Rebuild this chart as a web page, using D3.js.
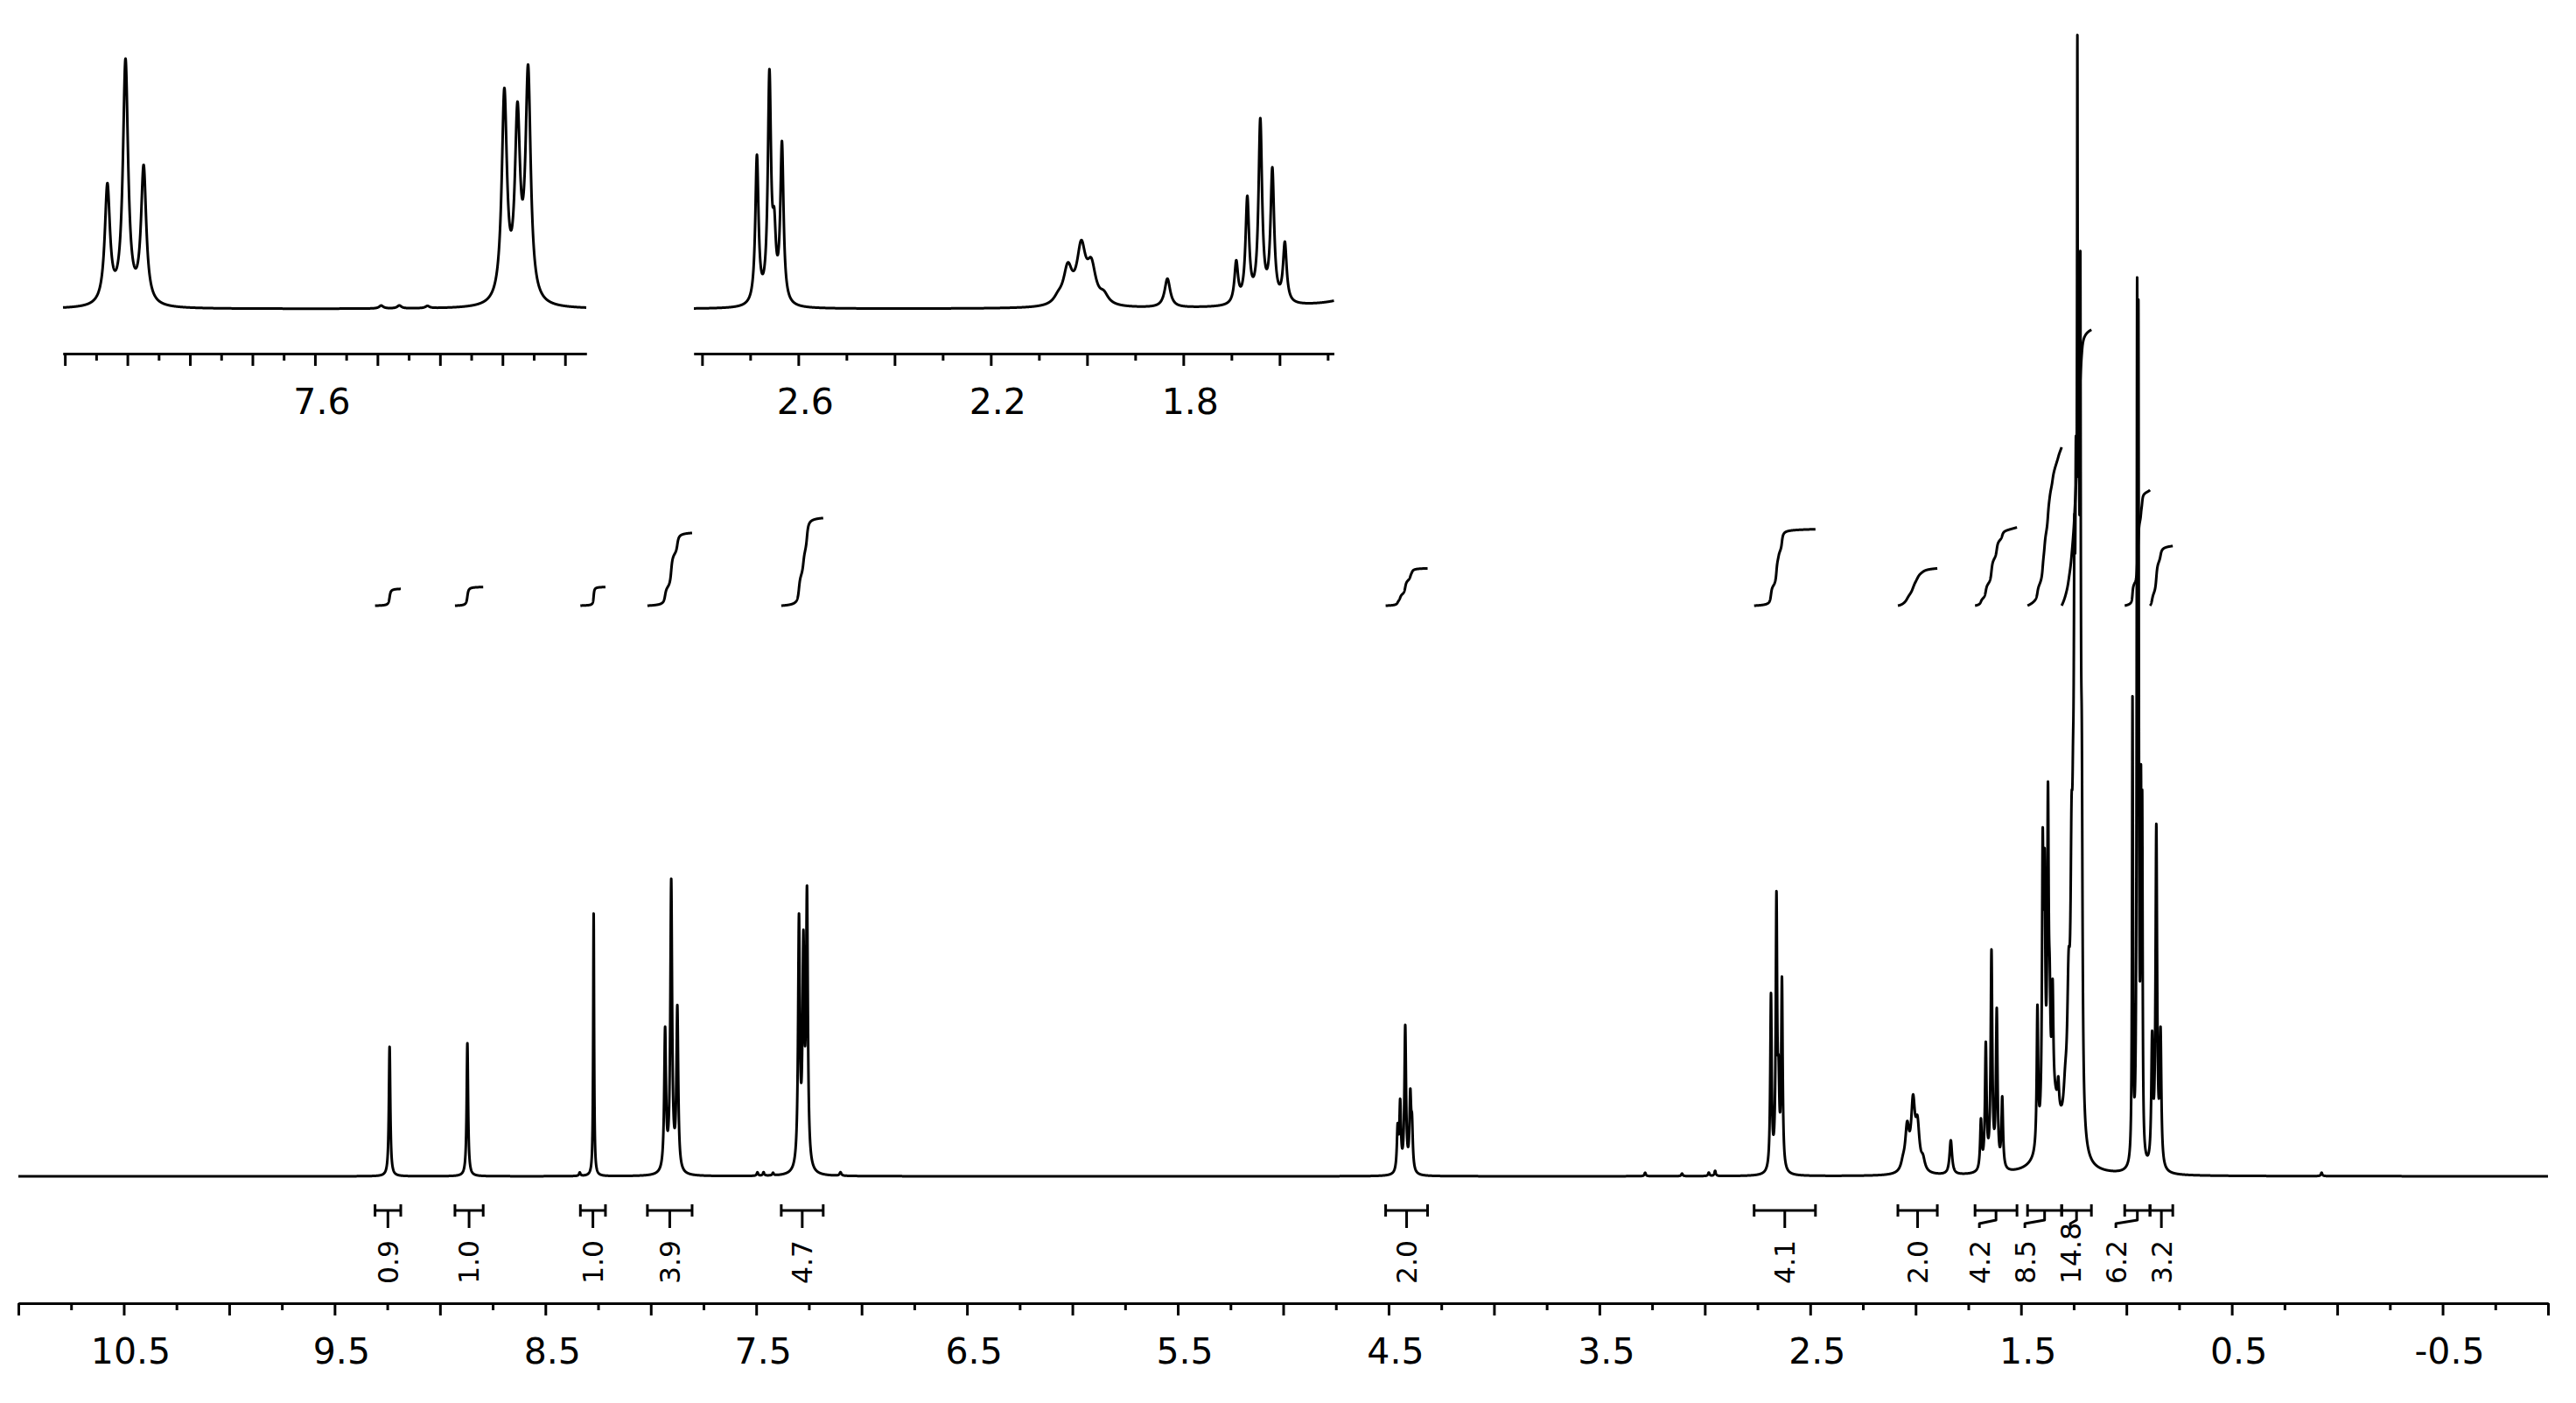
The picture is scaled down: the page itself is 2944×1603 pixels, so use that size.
<!DOCTYPE html>
<html>
<head>
    <meta charset="utf-8">
    <title>1H NMR spectrum</title>
    <script src="https://cdn.jsdelivr.net/npm/d3@7"></script>
    <style>
        body {
            margin: 0;
            background: #fff;
        }

        svg {
            display: block;
        }

        .trace, .integral, .bracket {
            fill: none;
            stroke: #000;
            stroke-width: 3px;
            stroke-linejoin: round;
        }

        .axis path, .axis line {
            stroke: #000;
            stroke-width: 3px;
        }

        .tick-label {
            font-family: "DejaVu Sans", Verdana, sans-serif;
            font-size: 41px;
            fill: #000;
        }

        .int-label {
            font-family: "DejaVu Sans", Verdana, sans-serif;
            font-size: 31.5px;
            fill: #000;
        }
    </style>
</head>

<body>

<script type="text/javascript">
    // lines: shift (ppm), height, half width (ppm)
    var peakPpm = [
        9.239, 8.870, 8.337, 8.271,                         // singlets
        7.932, 7.903, 7.874,                                // 7.90
        7.494, 7.465, 7.420, 7.297, 7.276, 7.259, 7.100,    // 7.27
        4.457, 4.445, 4.421, 4.397, 4.389,                  // 4.42
        3.283, 3.108, 2.981, 2.951,                         // small bumps
        2.686, 2.660, 2.650, 2.634,                         // 2.66
        2.060, 2.040, 2.012, 1.991, 1.965,                  // 2.02
        1.833,
        1.690, 1.667, 1.640, 1.615, 1.589,                  // 1.64
        1.422, 1.397, 1.388, 1.372, 1.364, 1.350, 1.323, 1.345, // 1.38
        1.290, 1.274, 1.260, 1.253, 1.2465, 1.2395, 1.2325, 1.2255, 1.2185, 1.2115, 1.2325, 1.2185, // 1.23
        0.971, 0.949, 0.943, 0.931, 0.925,                  // 0.95
        0.878, 0.858, 0.838,                                // 0.86
        0.074
    ];
    var peakHeight = [
        148, 152, 4, 300,
        160, 330, 185,
        4, 4, 3, 282, 242, 308, 4,
        48, 76, 166, 82, 48,
        4, 3, 4, 6,
        200, 305, 80, 215,
        8, 48, 75, 48, 12,
        39,
        56, 141, 246, 178, 80,
        160, 305, 255, 345, 90, 120, 30, 75,
        40, 150, 260, 150, 450, 480, 480, 480, 480, 300, 468, 297,
        525, 880, 840, 360, 355,
        140, 385, 148,
        4
    ];
    var peakWidth = [
        0.004, 0.004, 0.004, 0.0025,
        0.005, 0.005, 0.005,
        0.004, 0.004, 0.004, 0.005, 0.005, 0.005, 0.005,
        0.0045, 0.0045, 0.0045, 0.0045, 0.0045,
        0.004, 0.004, 0.004, 0.004,
        0.004, 0.004, 0.004, 0.004,
        0.011, 0.011, 0.011, 0.011, 0.011,
        0.007,
        0.0045, 0.0045, 0.0045, 0.0045, 0.0045,
        0.004, 0.004, 0.004, 0.004, 0.004, 0.004, 0.004, 0.045,
        0.010, 0.008, 0.006, 0.004, 0.004, 0.004, 0.004, 0.004, 0.004, 0.004, 0.0015, 0.0015,
        0.0025, 0.0025, 0.0025, 0.0025, 0.0025,
        0.0045, 0.0045, 0.0045,
        0.004
    ];

    // integration regions (ppm) and their values
    var intFrom = [9.308, 8.929, 8.334, 8.016, 7.381, 4.514, 2.766, 2.084, 1.718, 1.469, 1.307, 1.008, 0.888];
    var intTo = [9.186, 8.795, 8.215, 7.804, 7.182, 4.315, 2.475, 1.897, 1.519, 1.307, 1.166, 0.888, 0.780];
    var intValue = [0.9, 1.0, 1.0, 3.9, 4.7, 2.0, 4.1, 2.0, 4.2, 8.5, 14.8, 6.2, 3.2];

    // axis labels
    var mainLabels = [10.5, 9.5, 8.5, 7.5, 6.5, 5.5, 4.5, 3.5, 2.5, 1.5, 0.5, -0.5];
    var inset1Labels = [7.6];
    var inset2Labels = [2.6, 2.2, 1.8];

    var width = 2944,
        height = 1603;

    var x = d3.scaleLinear().domain([11, -1]).range([21, 2912]);
    var y = d3.scaleLinear().domain([0, 1307]).range([1344, 37]);
    var xIn1 = d3.scaleLinear().domain([8.003, 7.166]).range([72, 670]);
    var xIn2 = d3.scaleLinear().domain([2.817, 1.487]).range([793, 1524.5]);
    var yIn = d3.scaleLinear().domain([0, 1307]).range([353, 353 - 1307 * 0.841]);
    var yInt = d3.scaleLinear().domain([0, 15]).range([692, 372.5]);

    var svg = d3.select("body").append("svg")
        .attr("width", width)
        .attr("height", height);

    svg.append("rect").attr("width", width).attr("height", height).attr("fill", "#fff");

    function intensity(ppm) {
        var s = 0;
        for (var i = 0; i < peakPpm.length; i++) {
            var d = ppm - peakPpm[i], g = peakWidth[i];
            s += peakHeight[i] * g * g / (g * g + d * d);
        }
        return s;
    }

    // sample grid from hi to lo (ppm), with every line centre added
    function sample(hi, lo, step) {
        var n = Math.round((hi - lo) / step);
        var pts = d3.range(n + 1).map(function (k) { return hi - k * step; });
        peakPpm.forEach(function (p) { if (p < hi && p > lo) pts.push(p); });
        pts.sort(function (a, b) { return b - a; });
        return pts.map(function (p) { return [p, intensity(p)]; });
    }

    function drawTrace(xs, ys, step) {
        var dom = xs.domain();
        var line = d3.line()
            .x(function (d) { return xs(d[0]); })
            .y(function (d) { return ys(d[1]); });
        svg.append("path")
            .datum(sample(dom[0], dom[1], step))
            .attr("class", "trace")
            .attr("d", line);
    }

    function ticksBetween(xs, step) {
        var d = xs.domain(), lo = Math.min(d[0], d[1]), hi = Math.max(d[0], d[1]);
        return d3.range(Math.ceil(lo / step - 1e-6), Math.floor(hi / step + 1e-6) + 1)
            .map(function (k) { return +(k * step).toFixed(4); });
    }

    function drawAxis(xs, axisY, major, minor, labels) {
        var g = svg.append("g")
            .attr("class", "axis")
            .attr("transform", "translate(0," + axisY + ")");
        var majors = ticksBetween(xs, major);
        var minors = ticksBetween(xs, minor).filter(function (v) {
            return !majors.some(function (m) { return Math.abs(m - v) < 1e-6; });
        });
        g.append("g").call(d3.axisBottom(xs).tickValues(majors).tickSize(14).tickSizeOuter(0).tickFormat(""));
        g.append("g").call(d3.axisBottom(xs).tickValues(minors).tickSize(8).tickSizeOuter(0).tickFormat(""));
        g.selectAll("text.tick-label")
            .data(labels)
            .enter().append("text")
            .attr("class", "tick-label")
            .attr("x", function (d) { return xs(d) + 8; })
            .attr("y", 69)
            .attr("text-anchor", "middle")
            .text(function (d) { return d.toFixed(1); });
    }

    // main spectrum
    drawTrace(x, y, 0.0004);
    drawAxis(x, 1489, 0.5, 0.25, mainLabels);

    // expansions
    drawTrace(xIn1, yIn, 0.0002);
    drawAxis(xIn1, 404, 0.1, 0.05, inset1Labels);
    drawTrace(xIn2, yIn, 0.0002);
    drawAxis(xIn2, 404, 0.2, 0.1, inset2Labels);

    // integral curves
    var intLine = d3.line()
        .x(function (d) { return x(d[0]); })
        .y(function (d) { return yInt(d[1]); });

    intFrom.forEach(function (from, i) {
        var pts = sample(from, intTo[i], 0.0005);
        var acc = 0, cum = [[pts[0][0], 0]];
        for (var k = 1; k < pts.length; k++) {
            acc += (pts[k - 1][0] - pts[k][0]) * (pts[k - 1][1] + pts[k][1]) / 2;
            cum.push([pts[k][0], acc]);
        }
        cum.forEach(function (c) { c[1] = c[1] / acc * intValue[i]; });
        svg.append("path").datum(cum).attr("class", "integral").attr("d", intLine);
    });

    // integral brackets and values
    var barY = 1383, labelY = 1467, gap = 52;
    var centers = intFrom.map(function (f, i) { return (x(f) + x(intTo[i])) / 2; });
    var labelX = centers.slice();
    for (var i = labelX.length - 2; i >= 0; i--) {
        labelX[i] = Math.min(centers[i], labelX[i + 1] - gap);
    }

    var brackets = svg.append("g");
    intFrom.forEach(function (from, i) {
        var x0 = x(from), x1 = x(intTo[i]), cx = centers[i], lx = labelX[i];
        var p = d3.path();
        p.moveTo(x0, barY - 7); p.lineTo(x0, barY + 7);
        p.moveTo(x1, barY - 7); p.lineTo(x1, barY + 7);
        p.moveTo(x0, barY); p.lineTo(x1, barY);
        p.moveTo(cx, barY);
        if (Math.abs(lx - cx) > 1) {
            p.lineTo(cx, barY + 11);
            p.lineTo(lx, barY + 15);
            p.lineTo(lx, barY + 20);
        } else {
            p.lineTo(cx, barY + 20);
        }
        brackets.append("path").attr("class", "bracket").attr("d", p.toString());
        brackets.append("text")
            .attr("class", "int-label")
            .attr("transform", "translate(" + lx + "," + labelY + ") rotate(-90)")
            .attr("dy", "0.36em")
            .text(intValue[i].toFixed(1));
    });
</script>

</body>

</html>
